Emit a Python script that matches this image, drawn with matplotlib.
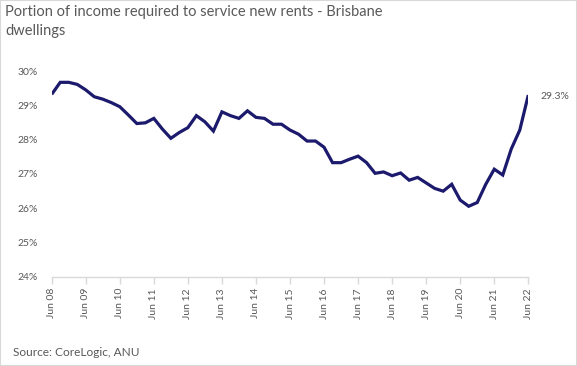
import numpy as np
import matplotlib
matplotlib.use("Agg")
import matplotlib.pyplot as plt
from matplotlib.patches import Rectangle

plt.rcParams['font.family'] = ['Lato', 'DejaVu Sans']

# quarterly share of income (%) needed to service new rents, Jun 08 .. Jun 22
rent_share = [
    29.32, 29.67, 29.67, 29.61, 29.45, 29.25, 29.18, 29.08,
    28.96, 28.72, 28.47, 28.49, 28.62, 28.31, 28.04, 28.21,
    28.35, 28.70, 28.52, 28.25, 28.81, 28.70, 28.62, 28.84,
    28.65, 28.62, 28.45, 28.45, 28.28, 28.16, 27.96, 27.96,
    27.78, 27.33, 27.33, 27.43, 27.52, 27.33, 27.02, 27.06,
    26.95, 27.03, 26.82, 26.90, 26.74, 26.58, 26.50, 26.70,
    26.24, 26.06, 26.17, 26.70, 27.14, 26.97, 27.73, 28.28,
    29.30,
]
tick_years = ['08', '09', '10', '11', '12', '13', '14', '15',
              '16', '17', '18', '19', '20', '21', '22']
y_ticks = [24, 25, 26, 27, 28, 29, 30]

text_grey = '#595959'
line_col = '#1c1a6c'

fig = plt.figure(figsize=(5.77, 3.66), dpi=100)
ax = fig.add_axes([0.0896, 0.2432, 0.826, 0.5628])

x = np.arange(len(rent_share))
ax.plot(x, rent_share, color=line_col, lw=2.3, solid_joinstyle='miter',
        solid_capstyle='butt')

ax.set_xlim(0, len(rent_share) - 1)
ax.set_ylim(24, 30)

ax.set_yticks(y_ticks)
ax.set_yticklabels([f'{v}%' for v in y_ticks])
ax.set_xticks(np.arange(0, len(rent_share), 4))
ax.set_xticklabels([f'Jun {y}' for y in tick_years], rotation=90)

for s in ['top', 'right', 'left']:
    ax.spines[s].set_visible(False)
ax.spines['bottom'].set_color('#d9d9d9')
ax.spines['bottom'].set_linewidth(1.0)
ax.tick_params(axis='y', length=0, pad=10, labelsize=7.5, labelcolor=text_grey)
ax.tick_params(axis='x', length=5, width=1.0, color='#d9d9d9', pad=3,
               labelsize=7.5, labelcolor=text_grey)

ax.annotate(f'{rent_share[-1]:.1f}%', xy=(x[-1], rent_share[-1]),
            xytext=(9, -1), textcoords='offset points', va='center',
            ha='left', fontsize=7.5, color=text_grey, annotation_clip=False)

fig.text(5 / 577, 1 - 5 / 366,
         'Portion of income required to service new rents - Brisbane\ndwellings',
         ha='left', va='top', fontsize=10.5, color=text_grey, linespacing=1.45)
fig.text(13 / 577, 1 - 352 / 366, 'Source: CoreLogic, ANU', ha='left',
         va='center', fontsize=8.6, color=text_grey)

fig.patches.append(Rectangle((0, 0), 1, 1, transform=fig.transFigure,
                             fill=False, edgecolor='#d9d9d9', lw=1.5))

fig.savefig('out.png', dpi=100)
